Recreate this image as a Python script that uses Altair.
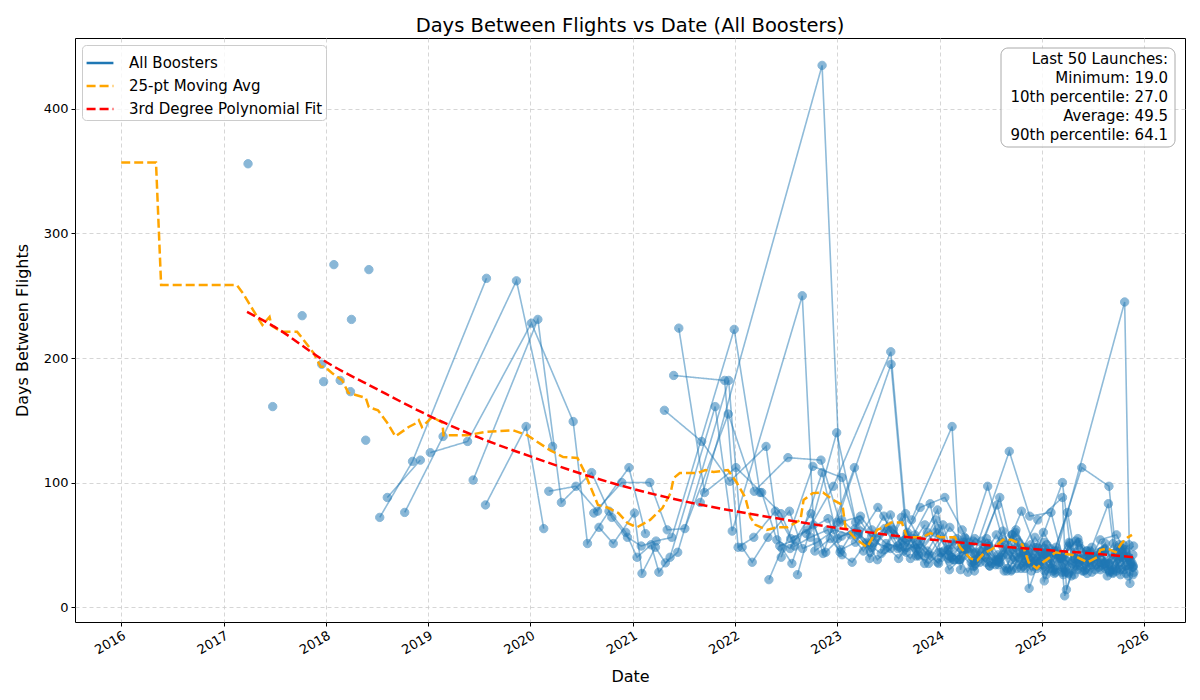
import altair as alt
import pandas as pd

# every booster: decimal year of its first flight, then the days between its
# later flights (one plotted point per reflight)
first_flight = [
    2016.265, 2017.04, 2017.128, 2017.426, 2017.483, 2017.326, 2017.642,
    2017.767, 2017.618, 2018.023, 2017.679,
    2018.33, 2018.36, 2018.563, 2018.682, 2019.161, 2019.336, 2019.925,
    2020.495, 2020.413, 2020.891, 2020.837, 2020.877, 2021.43,
    2022.342, 2022.271, 2022.539, 2022.534, 2022.805, 2023.533, 2023.15,
    2023.916, 2024.081, 2024.464, 2024.738, 2024.683, 2024.875, 2024.382,
]
turnaround = [
    [356], [161], [234], [195], [181], [275], [182], [173], [231], [134], [271],
    [72, 117, 264],
    [88, 118],
    [76, 137, 262, 129],
    [124, 133, 228, 149, 51, 77, 60, 40, 50, 28, 40, 161, 61, 250, 45, 55, 42, 36, 52, 38, 47, 60,
     41, 35, 44, 30, 38, 28, 45, 33, 40, 55, 31, 36, 42, 27, 38, 33, 29, 40, 35, 44, 30, 32],
    [102, 231, 84, 108, 72, 56, 49, 53, 56, 223, 92, 75, 49, 56, 62, 44, 70, 52, 48, 39, 58, 45,
     36, 50, 41, 33, 47, 38, 29, 52, 35, 44, 31, 40, 27, 36, 48, 30, 34, 41, 25],
    [82, 145, 63],
    [93, 97, 77, 112, 59],
    [64, 51, 75.5, 27, 48, 35.5, 44, 182, 48, 36, 56, 77, 47, 52, 62, 58, 45, 73, 49, 55, 41, 66,
     38, 47, 53, 35, 42, 30, 48, 37, 44, 28, 51, 36, 33, 45, 29, 40, 42],
    [75.5, 100, 100, 62, 63, 155, 93, 120, 118, 68, 73, 56, 62, 48, 83, 40, 55, 47, 36, 58, 42, 31,
     50, 39, 45, 28, 44, 36, 41, 33, 27, 46, 26],
    [186, 182, 48, 56, 77, 55, 62, 71, 46, 52, 80, 58, 44, 66],
    [224, 92, 112, 92, 54, 47, 75, 43, 112, 62, 51, 48, 39, 60, 44, 37, 55, 35, 88, 46, 39, 33, 50],
    [158, 133, 101, 129, 49, 54, 66, 44, 57, 61, 39, 74, 45, 50, 42, 35, 53, 46, 29, 40, 37, 58,
     31, 43, 34, 48, 26, 39, 45, 30, 36, 41, 33, 28],
    [84, 435, 70, 58, 44, 62, 53, 47, 78, 41, 56, 38, 49, 34, 60, 45, 33, 42, 39, 28, 47, 36, 51,
     30, 44],
    [40, 113, 104, 59, 48, 65, 52, 41, 70, 46, 38, 55, 49, 36, 62, 44, 31, 47, 39, 53, 29, 41, 35,
     48, 27],
    [22, 47, 35, 108, 55, 63, 50, 43, 72, 48, 35, 57, 40, 46, 33, 51, 38, 29, 44, 36, 52, 31, 42,
     25, 39, 34, 47, 28, 40, 33],
    [26, 140, 68, 57, 46, 75, 53, 41, 64, 50, 37, 82, 45, 34, 56, 42, 30, 49, 38, 27, 44, 35, 50, 32],
    [59, 97, 205, 58, 47, 63, 39, 52, 44, 36, 61, 40, 33, 48, 29, 42, 37, 26, 45, 34, 31, 50, 38],
    [68, 195, 55, 42, 60, 46, 38, 53, 45, 34, 58, 41, 29, 47, 36, 52, 30, 43, 38, 25, 46, 33],
    [70, 145, 30, 97, 54, 48, 37, 60, 43, 31, 52, 39, 44, 28, 36, 49],
    [51, 63, 47, 80, 88, 62, 43, 125, 73, 76, 41, 55, 38, 44, 30, 47, 35],
    [45, 38, 52, 41, 33, 48, 29, 44, 39, 100, 35, 42, 28, 46, 37, 50],
    [47, 36, 55, 42, 31, 40, 70, 88, 14, 39, 45, 32, 51, 26, 37],
    [52, 38, 45, 15, 41, 35, 112, 97, 31, 40],
    [36, 47, 21, 42, 245, 19],
    [48, 36, 43, 29, 32, 9, 39, 34, 83, 29, 38],
    [35, 26, 76, 33, 30, 54, 58, 40],
    [40, 36, 77, 48, 33, 45, 28, 50, 41, 36, 43, 30, 35],
]

# 25-pt moving average (orange dashed)
ma_year = [
    2016.00, 2016.34, 2016.39, 2017.13, 2017.19, 2017.33, 2017.38, 2017.45, 2017.47, 2017.57,
    2017.72, 2017.76, 2017.88, 2017.95, 2017.99, 2018.06, 2018.16, 2018.22, 2018.39, 2018.42,
    2018.51, 2018.60, 2018.68, 2018.81, 2018.89, 2018.91, 2018.94, 2019.04, 2019.14, 2019.15,
    2019.38, 2019.56, 2019.83, 2019.97, 2020.19, 2020.32, 2020.46, 2020.52, 2020.66, 2020.75,
    2020.86, 2020.95, 2021.04, 2021.17, 2021.29, 2021.37, 2021.40, 2021.46, 2021.63, 2021.71,
    2021.79, 2021.93, 2022.02, 2022.10, 2022.15, 2022.20, 2022.31, 2022.41, 2022.51, 2022.64,
    2022.67, 2022.76, 2022.86, 2022.96, 2023.05, 2023.08, 2023.17, 2023.29, 2023.39, 2023.45,
    2023.53, 2023.63, 2023.68, 2023.83, 2023.91, 2024.01, 2024.15, 2024.20, 2024.30, 2024.37,
    2024.43, 2024.52, 2024.62, 2024.70, 2024.81, 2024.87, 2024.95, 2025.01, 2025.08, 2025.13,
    2025.21, 2025.30, 2025.37, 2025.45, 2025.54, 2025.57, 2025.64, 2025.72, 2025.78, 2025.84,
    2025.88,
]
ma_days = [
    357, 357, 258.6, 258.6, 252, 233, 226.5, 233, 226, 221,
    221, 217, 204, 193, 193, 188, 182, 172, 168, 160.6,
    158, 148, 137, 144.6, 148, 150, 144.6, 152.6, 148, 138,
    138, 140.6, 142, 138, 126, 120.5, 119.7, 110, 82, 80,
    75.5, 67.5, 64, 70, 79.5, 91.5, 103.6, 107.6, 107.6, 110,
    108.4, 110, 99.6, 88, 72, 66, 62, 64, 64, 70,
    86, 91.5, 92, 86, 82, 64, 55.5, 48, 62, 64,
    68, 68, 56, 56, 59.4, 56, 56, 48, 39, 37.6,
    43, 47, 54, 54, 50, 36, 31, 36, 40, 44,
    43, 41.8, 39, 36, 40, 45.8, 47, 44, 51.4, 56,
    58,
]

# 3rd degree polynomial fit (red dashed)
fit_year = [2017.23, 2017.5, 2018.0, 2018.5, 2019.0, 2019.5, 2020.0, 2020.5, 2021.0, 2021.5,
            2022.0, 2022.5, 2023.0, 2023.5, 2024.0, 2024.5, 2025.0, 2025.5, 2025.9]
fit_days = [237, 225, 197, 175, 154, 136, 121, 107, 95, 85,
            77, 70, 63.5, 58, 53.5, 49.5, 46, 43, 40]

stat_names = ["Minimum", "10th percentile", "Average", "90th percentile"]
stat_values = [19.0, 27.0, 49.5, 64.1]

series_names = ["All Boosters", "25-pt Moving Avg", "3rd Degree Polynomial Fit"]


def to_date(y):
    return pd.Timestamp("2016-01-01") + pd.Timedelta(days=(y - 2016) * 365.25)


rows = []
for b, (start, gaps) in enumerate(zip(first_flight, turnaround)):
    t = to_date(start)
    for g in gaps:
        t = t + pd.Timedelta(days=g)
        rows.append({"booster": b, "date": t, "days": g, "series": series_names[0]})
flights = pd.DataFrame(rows)

ma = pd.DataFrame({"date": [to_date(y) for y in ma_year], "days": ma_days,
                   "series": series_names[1]})
fit = pd.DataFrame({"date": [to_date(y) for y in fit_year], "days": fit_days,
                    "series": series_names[2]})

legend = alt.Legend(title=None, orient="top-left", offset=7, padding=3,
                    strokeColor="#cccccc", fillColor="rgba(255,255,255,0.8)", cornerRadius=4,
                    labelFontSize=15, labelColor="black", labelLimit=0,
                    symbolType="stroke", symbolSize=720, symbolStrokeWidth=2.5,
                    symbolOpacity=1, rowPadding=0, labelOffset=14)
color = alt.Color("series:N", scale=alt.Scale(domain=series_names,
                                              range=["#1f77b4", "orange", "red"]), legend=legend)
dash = alt.StrokeDash("series:N", scale=alt.Scale(domain=series_names,
                                                  range=[[1, 0], [9, 4], [9, 4]]), legend=legend)

x = alt.X("date:T",
          scale=alt.Scale(domain=[alt.DateTime(year=2015, month=7, date=20),
                                  alt.DateTime(year=2026, month=5, date=26)]),
          axis=alt.Axis(title="Date", format="%Y",
                        values=[alt.DateTime(year=y) for y in range(2016, 2027)],
                        labelAngle=330, labelAlign="right", labelBaseline="top",
                        titlePadding=12))
y = alt.Y("days:Q", scale=alt.Scale(domain=[-12, 457], nice=False, zero=False),
          axis=alt.Axis(title="Days Between Flights", values=[0, 100, 200, 300, 400],
                        titlePadding=13))

lines = alt.Chart(flights).mark_line(strokeWidth=1.6, opacity=0.5).encode(
    x=x, y=y, detail="booster:N", color=color, strokeDash=dash)
points = alt.Chart(flights).mark_circle(size=70, color="#1f77b4", opacity=0.52,
                                        stroke="#1f77b4", strokeWidth=1).encode(x=x, y=y)
avg_line = alt.Chart(ma).mark_line(strokeWidth=2.5).encode(x=x, y=y, color=color, strokeDash=dash)
fit_line = alt.Chart(fit).mark_line(strokeWidth=2.5, interpolate="monotone").encode(
    x=x, y=y, color=color, strokeDash=dash)

box_text = "Last 50 Launches:\n" + "\n".join(
    f"{n}: {v:.1f}" for n, v in zip(stat_names, stat_values))
info = pd.DataFrame({"t": [box_text]})
box = alt.Chart(info).mark_rect(fill="white", fillOpacity=0.8, stroke="#aaaaaa",
                                strokeWidth=1, cornerRadius=7).encode(
    x=alt.value(926), x2=alt.value(1100), y=alt.value(10), y2=alt.value(109))
box_label = alt.Chart(info).mark_text(align="right", baseline="top", lineBreak="\n",
                                      lineHeight=19, fontSize=15, color="black").encode(
    x=alt.value(1093), y=alt.value(14), text="t:N")

chart = alt.layer(lines, points, avg_line, fit_line, box, box_label).properties(
    width=1110, height=584,
    title=alt.TitleParams("Days Between Flights vs Date (All Boosters)", fontSize=19.5,
                          fontWeight="normal", anchor="middle", offset=2, color="black"),
    padding={"left": 67, "top": 30, "right": 7, "bottom": 76},
    autosize=alt.AutoSizeParams(type="none"),
).configure(font="DejaVu Sans").configure_view(
    stroke="black", strokeWidth=1
).configure_axis(
    domain=False, grid=True, gridColor="#cccccc", gridDash=[4, 3], gridWidth=0.8,
    tickColor="black", tickSize=4, labelColor="black", labelFontSize=13,
    titleColor="black", titleFontSize=16, titleFontWeight="normal", labelPadding=3,
)

chart.save("out.html", embed_options={"renderer": "svg", "actions": False})
